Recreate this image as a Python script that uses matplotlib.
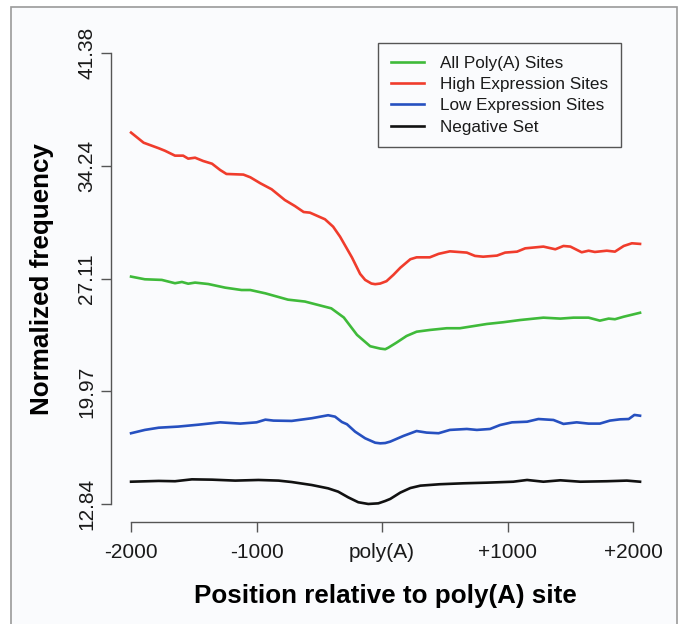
import matplotlib
matplotlib.use('Agg')
import matplotlib.pyplot as plt
from matplotlib.patches import Rectangle

plt.rcParams['font.family'] = ['Liberation Sans', 'DejaVu Sans']

# --- data ---
red_pos = [-2000, -1900, -1780, -1730, -1650, -1585, -1545, -1490, -1425, -1355,
           -1290, -1240, -1105, -1050, -970, -880, -775, -695, -625, -575,
           -455, -390, -335, -240, -175, -135, -85, -55, -15, 35,
           90, 145, 225, 275, 380, 450, 540, 675, 740, 805,
           915, 980, 1075, 1140, 1285, 1380, 1445, 1500, 1590, 1645,
           1695, 1790, 1855, 1925, 1990, 2055]
red_val = [36.36, 35.72, 35.37, 35.21, 34.90, 34.90, 34.71, 34.77, 34.56, 34.39,
           33.99, 33.74, 33.70, 33.53, 33.15, 32.77, 32.09, 31.71, 31.33, 31.29,
           30.87, 30.40, 29.77, 28.45, 27.41, 27.03, 26.80, 26.76, 26.80, 26.95,
           27.35, 27.80, 28.34, 28.46, 28.46, 28.68, 28.84, 28.76, 28.55, 28.50,
           28.57, 28.76, 28.82, 29.03, 29.14, 28.97, 29.18, 29.14, 28.78, 28.88,
           28.80, 28.88, 28.82, 29.18, 29.35, 29.31]

green_pos = [-2000, -1890, -1755, -1650, -1595, -1545, -1490, -1385, -1250, -1120,
             -1050, -930, -750, -615, -405, -305, -200, -95, -15, 25,
             50, 115, 195, 275, 380, 515, 620, 700, 835, 965,
             1100, 1285, 1420, 1525, 1645, 1735, 1805, 1855, 1925, 2055]
green_val = [27.24, 27.07, 27.03, 26.82, 26.90, 26.79, 26.86, 26.77, 26.54, 26.39,
             26.39, 26.18, 25.78, 25.66, 25.23, 24.65, 23.55, 22.83, 22.68, 22.64,
             22.74, 23.06, 23.48, 23.75, 23.86, 23.97, 23.97, 24.07, 24.24, 24.35,
             24.49, 24.64, 24.58, 24.64, 24.64, 24.45, 24.58, 24.54, 24.70, 24.95]

blue_pos = [-2000, -1890, -1780, -1625, -1465, -1290, -1130, -1000, -930, -865,
            -720, -560, -430, -375, -320, -280, -215, -135, -55, -15,
            25, 65, 170, 275, 355, 450, 540, 675, 755, 860,
            940, 1035, 1155, 1245, 1365, 1445, 1550, 1645, 1735, 1815,
            1895, 1965, 2010, 2055]
blue_val = [17.32, 17.53, 17.67, 17.74, 17.86, 18.01, 17.93, 18.01, 18.18, 18.12,
            18.10, 18.27, 18.46, 18.37, 18.03, 17.89, 17.42, 17.00, 16.72, 16.68,
            16.70, 16.79, 17.15, 17.46, 17.36, 17.32, 17.53, 17.59, 17.53, 17.59,
            17.84, 18.01, 18.05, 18.22, 18.16, 17.91, 18.01, 17.93, 17.93, 18.12,
            18.20, 18.22, 18.48, 18.43]

black_pos = [-2000, -1780, -1650, -1515, -1355, -1170, -985, -825, -720, -560,
             -430, -350, -270, -190, -110, -30, 25, 65, 145, 225,
             305, 460, 650, 835, 1045, 1155, 1285, 1420, 1580, 1790,
             1950, 2055]
black_val = [14.25, 14.30, 14.28, 14.40, 14.38, 14.32, 14.36, 14.32, 14.23, 14.04,
             13.83, 13.62, 13.26, 12.95, 12.84, 12.88, 13.03, 13.16, 13.56, 13.85,
             14.00, 14.09, 14.15, 14.19, 14.25, 14.36, 14.25, 14.34, 14.25, 14.28,
             14.32, 14.25]

series_names = ['All Poly(A) Sites', 'High Expression Sites',
                'Low Expression Sites', 'Negative Set']
y_ticks = [12.84, 19.97, 27.11, 34.24, 41.38]
x_ticks = [-2000, -1000, 0, 1000, 2000]
x_tick_labels = ['-2000', '-1000', 'poly(A)', '+1000', '+2000']

W, H = 683, 624
fig = plt.figure(figsize=(W / 100, H / 100), dpi=100)
fig.patch.set_facecolor('white')

# light panel with grey frame behind everything
panel = Rectangle((11 / W, -0.02), (677 - 11) / W, 1 - 7 / H + 0.02,
                  transform=fig.transFigure, facecolor='#fafbfd',
                  edgecolor='#9a9a9a', linewidth=1.2, zorder=-10)
fig.add_artist(panel)

ax = fig.add_axes([110.7 / W, (H - 522) / H, 549.7 / W, 486.7 / H])
ax.set_facecolor('none')
ax.set_zorder(1)

lw = 1.9
ax.plot(green_pos, green_val, color='#3fba3a', lw=lw, label=series_names[0])
ax.plot(red_pos, red_val, color='#f03c2c', lw=lw, label=series_names[1])
ax.plot(blue_pos, blue_val, color='#2650c0', lw=lw, label=series_names[2])
ax.plot(black_pos, black_val, color='#111111', lw=lw, label=series_names[3])

# R-style 4% padding
xr = 2055 - (-2000)
ax.set_xlim(-2000 - 0.04 * xr, 2055 + 0.04 * xr)
yr = y_ticks[-1] - y_ticks[0]
ax.set_ylim(y_ticks[0] - 0.04 * yr, y_ticks[-1] + 0.04 * yr)

for s in ['top', 'right']:
    ax.spines[s].set_visible(False)
ax.spines['left'].set_bounds(y_ticks[0], y_ticks[-1])
ax.spines['bottom'].set_bounds(x_ticks[0], x_ticks[-1])
for s in ['left', 'bottom']:
    ax.spines[s].set_color('#555555')
    ax.spines[s].set_linewidth(1.0)

ax.set_xticks(x_ticks)
ax.set_xticklabels(x_tick_labels)
ax.set_yticks(y_ticks)
ax.set_yticklabels([f'{v:.2f}' for v in y_ticks])
ax.tick_params(axis='both', length=7.5, width=1.0, color='#555555',
               labelsize=15, labelcolor='#1a1a1a')
ax.tick_params(axis='x', pad=7.5)
ax.tick_params(axis='y', pad=3, labelrotation=90)
for t in ax.get_yticklabels():
    t.set_va('center')

ax.set_xlabel('Position relative to poly(A) site', fontsize=18.7,
              fontweight='bold')
ax.xaxis.set_label_coords(0.5, -0.128)
ax.set_ylabel('Normalized frequency', fontsize=18.7, fontweight='bold')
ax.yaxis.set_label_coords(-0.104, 0.5)

leg = ax.legend(loc='upper left', bbox_to_anchor=(378.3 / W, 1 - 43.3 / H),
                bbox_transform=fig.transFigure, fontsize=12.3, frameon=True,
                fancybox=False, borderaxespad=0, borderpad=0.75,
                handlelength=1.95, handletextpad=0.9, labelspacing=0.36)
leg.get_frame().set_edgecolor('#555555')
leg.get_frame().set_linewidth(1.0)
leg.get_frame().set_facecolor('#fafbfd')
leg.get_frame().set_alpha(1)
for line in leg.get_lines():
    line.set_linewidth(lw)
for t in leg.get_texts():
    t.set_color('#1a1a1a')

fig.savefig('out.png', dpi=100)
